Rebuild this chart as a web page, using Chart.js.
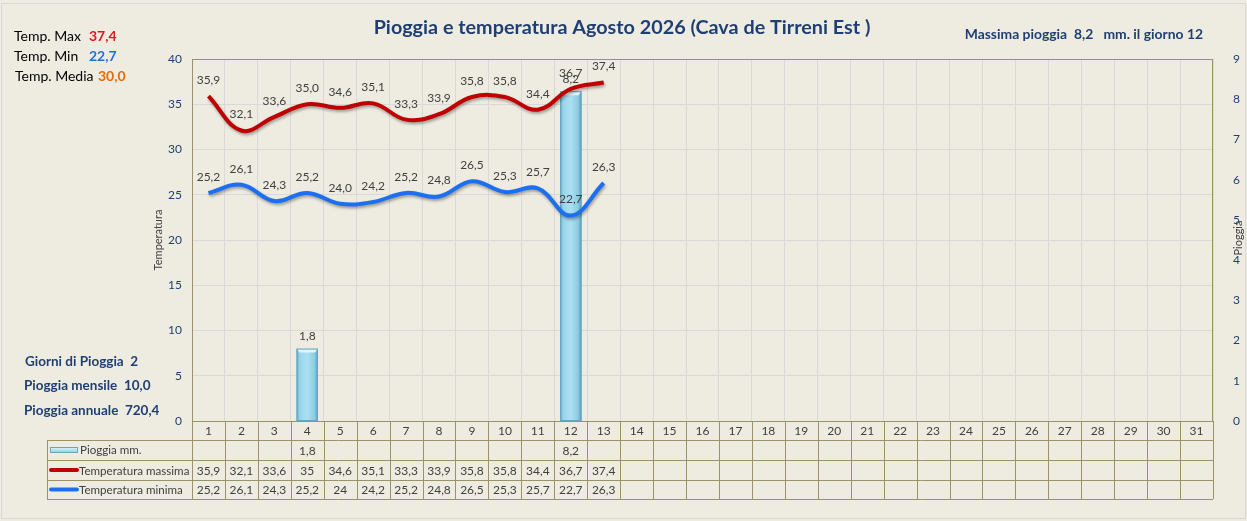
<!DOCTYPE html>
<html>
<head>
<meta charset="utf-8">
<script src="https://cdn.jsdelivr.net/npm/chart.js@4.4.1/dist/chart.umd.min.js"></script>
<style>
  html, body { margin: 0; padding: 0; background: #eeece1; }
  #wrap { width: 1247px; height: 521px; position: relative; }
</style>
</head>
<body>
<div id="wrap"><canvas id="chart"></canvas></div>
<script>
// dati del mese
const giorni = ['1','2','3','4','5','6','7','8','9','10','11','12','13','14','15','16',
  '17','18','19','20','21','22','23','24','25','26','27','28','29','30','31'];
const pioggia = [null, null, null, 1.8, null, null, null, null, null, null, null, 8.2, null,
  null, null, null, null, null, null, null, null, null, null, null, null, null, null, null, null, null, null];
const tempMax = [35.9, 32.1, 33.6, 35.0, 34.6, 35.1, 33.3, 33.9, 35.8, 35.8, 34.4, 36.7, 37.4,
  null, null, null, null, null, null, null, null, null, null, null, null, null, null, null, null, null, null];
const tempMin = [25.2, 26.1, 24.3, 25.2, 24.0, 24.2, 25.2, 24.8, 26.5, 25.3, 25.7, 22.7, 26.3,
  null, null, null, null, null, null, null, null, null, null, null, null, null, null, null, null, null, null];
const pioggiaAnnuale = 720.4;

const FONT = 'Lato, "Open Sans", sans-serif';
const OLIVE = '#9a9367';
const NAVY = '#1f3f73';
const GREY = '#404040';

const valid = a => a.filter(v => v !== null);
const fmt1 = v => v.toFixed(1).replace('.', ',');
const fmtGen = v => String(v).replace('.', ',');

const tMax = Math.max(...valid(tempMax));
const tMin = Math.min(...valid(tempMin));
const tMedia = (valid(tempMax).reduce((a, b) => a + b, 0) + valid(tempMin).reduce((a, b) => a + b, 0)) / (2 * valid(tempMax).length);
const pMax = Math.max(...valid(pioggia));
const pMaxGiorno = giorni[pioggia.indexOf(pMax)];
const pGiorni = valid(pioggia).length;
const pMese = valid(pioggia).reduce((a, b) => a + b, 0);

function txt(ctx, s, x, y, font, color, align) {
    ctx.font = font;
    ctx.fillStyle = color;
    ctx.textAlign = align || 'left';
    ctx.textBaseline = 'middle';
    ctx.fillText(s, x, y);
}

const decor = {
    id: 'decor',
    beforeDraw(chart) {
        const ctx = chart.ctx;
        ctx.save();
        ctx.fillStyle = '#eeece1';
        ctx.fillRect(0, 0, chart.width, chart.height);
        ctx.strokeStyle = '#d8d8d8';
        ctx.lineWidth = 1;
        ctx.strokeRect(1.5, 3.5, chart.width - 3, chart.height - 6);
        ctx.restore();
    },
    beforeDatasetDraw(chart, args) {
        const ctx = chart.ctx;
        ctx.save();
        if (args.meta.type === 'line') {
            ctx.shadowColor = 'rgba(0,0,0,0.35)';
            ctx.shadowBlur = 3;
            ctx.shadowOffsetX = 1;
            ctx.shadowOffsetY = 2;
        }
    },
    afterDatasetDraw(chart, args) {
        const ctx = chart.ctx;
        ctx.restore();
        if (args.meta.type !== 'bar') return;
        // effetto rilievo sulle barre
        args.meta.data.forEach((el, i) => {
            if (pioggia[i] === null) return;
            const { x, y, base, width } = el.getProps(['x', 'y', 'base', 'width'], true);
            const l = x - width / 2;
            const g = ctx.createLinearGradient(l, 0, l + width, 0);
            g.addColorStop(0, '#63aac6');
            g.addColorStop(0.15, '#9ad4ea');
            g.addColorStop(0.5, '#ace0f1');
            g.addColorStop(0.85, '#8ccae2');
            g.addColorStop(1, '#5597b2');
            ctx.save();
            ctx.fillStyle = g;
            ctx.fillRect(l, y, width, base - y);
            ctx.fillStyle = '#e4f5fb';
            ctx.beginPath();
            ctx.moveTo(l, y);
            ctx.lineTo(l + width, y);
            ctx.lineTo(l + width - 3, y + 4);
            ctx.lineTo(l + 3, y + 4);
            ctx.closePath();
            ctx.fill();
            ctx.strokeStyle = '#6aa6bd';
            ctx.lineWidth = 1;
            ctx.strokeRect(l + 0.5, y + 0.5, width - 1, base - y - 1);
            ctx.restore();
        });
    },
    afterDraw(chart) {
        const ctx = chart.ctx;
        const area = chart.chartArea;
        const xs = chart.scales.x;
        const cw = xs.width / giorni.length;
        ctx.save();

        // bordo area del grafico
        ctx.strokeStyle = OLIVE;
        ctx.lineWidth = 1;
        ctx.strokeRect(Math.round(area.left) + 0.5, Math.round(area.top) + 0.5,
            Math.round(area.width) - 1, Math.round(area.height));

        // etichette dei dati
        const lab = '12px ' + FONT;
        [1, 2].forEach(di => {
            const meta = chart.getDatasetMeta(di);
            const vals = chart.data.datasets[di].data;
            meta.data.forEach((el, i) => {
                if (vals[i] === null) return;
                txt(ctx, fmt1(vals[i]), el.x, el.y - 16, lab, GREY, 'center');
            });
        });
        chart.getDatasetMeta(0).data.forEach((el, i) => {
            if (pioggia[i] === null) return;
            txt(ctx, fmt1(pioggia[i]), el.x, el.y - 12, lab, GREY, 'center');
        });

        // titoli degli assi
        ctx.save();
        ctx.translate(158, area.top + area.height / 2);
        ctx.rotate(-Math.PI / 2);
        txt(ctx, 'Temperatura', 0, 0, '11px ' + FONT, GREY, 'center');
        ctx.restore();
        ctx.save();
        ctx.translate(1238, area.top + area.height / 2 - 2);
        ctx.rotate(-Math.PI / 2);
        txt(ctx, 'Pioggia', 0, 0, '11px ' + FONT, GREY, 'center');
        ctx.restore();

        // tabella dati
        const rows = [area.bottom, area.bottom + 19, area.bottom + 39, area.bottom + 59, area.bottom + 78];
        const tl = 47;
        ctx.strokeStyle = OLIVE;
        ctx.lineWidth = 1;
        ctx.beginPath();
        rows.forEach((ry, r) => {
            const x0 = r === 0 ? area.left : tl;
            ctx.moveTo(x0, Math.round(ry) + 0.5);
            ctx.lineTo(area.right, Math.round(ry) + 0.5);
        });
        for (let i = 0; i <= giorni.length; i++) {
            const vx = Math.round(area.left + i * cw) + 0.5;
            ctx.moveTo(vx, rows[0]);
            ctx.lineTo(vx, rows[4]);
        }
        ctx.moveTo(tl + 0.5, rows[1]);
        ctx.lineTo(tl + 0.5, rows[4]);
        ctx.stroke();

        const cell = '12px ' + FONT;
        giorni.forEach((g, i) => {
            const cx = xs.getPixelForValue(i);
            txt(ctx, g, cx, (rows[0] + rows[1]) / 2 + 1, cell, GREY, 'center');
            if (pioggia[i] !== null) txt(ctx, fmtGen(pioggia[i]), cx, (rows[1] + rows[2]) / 2 + 1, cell, GREY, 'center');
            if (tempMax[i] !== null) txt(ctx, fmtGen(tempMax[i]), cx, (rows[2] + rows[3]) / 2 + 1, cell, GREY, 'center');
            if (tempMin[i] !== null) txt(ctx, fmtGen(tempMin[i]), cx, (rows[3] + rows[4]) / 2 + 1, cell, GREY, 'center');
        });

        // legenda nella tabella
        const k1 = (rows[1] + rows[2]) / 2;
        const kg = ctx.createLinearGradient(0, k1 - 3, 0, k1 + 3);
        kg.addColorStop(0, '#e4f5fb');
        kg.addColorStop(1, '#8ccbe2');
        ctx.fillStyle = kg;
        ctx.fillRect(50, k1 - 3, 28, 6);
        ctx.strokeStyle = '#6aa6bd';
        ctx.strokeRect(50.5, k1 - 2.5, 27, 5);
        ctx.lineCap = 'round';
        ctx.lineWidth = 4;
        ctx.strokeStyle = '#c00000';
        ctx.beginPath(); ctx.moveTo(51, (rows[2] + rows[3]) / 2); ctx.lineTo(77, (rows[2] + rows[3]) / 2); ctx.stroke();
        ctx.strokeStyle = '#1c6ff0';
        ctx.beginPath(); ctx.moveTo(51, (rows[3] + rows[4]) / 2); ctx.lineTo(77, (rows[3] + rows[4]) / 2); ctx.stroke();
        const head = '11.6px ' + FONT;
        txt(ctx, 'Pioggia mm.', 80, k1, head, GREY);
        txt(ctx, 'Temperatura massima', 79, (rows[2] + rows[3]) / 2 + 1, head, GREY);
        txt(ctx, 'Temperatura minima', 79, (rows[3] + rows[4]) / 2 + 1, head, GREY);

        // titolo e riepiloghi
        txt(ctx, 'Pioggia e temperatura Agosto 2026 (Cava de Tirreni Est )', 622, 28, 'bold 19.8px ' + FONT, NAVY, 'center');
        txt(ctx, 'Massima pioggia  ' + fmt1(pMax) + '   mm. il giorno ' + pMaxGiorno, 1203, 35, 'bold 13.9px ' + FONT, NAVY, 'right');

        const big = '14px ' + FONT;
        const bigB = 'bold 14px ' + FONT;
        txt(ctx, 'Temp. Max', 14, 36, big, '#000');
        txt(ctx, fmt1(tMax), 89, 36, bigB, '#e8141c');
        txt(ctx, 'Temp. Min', 14, 56, big, '#000');
        txt(ctx, fmt1(tMin), 89, 56, bigB, '#1f6fd8');
        txt(ctx, 'Temp. Media', 15, 76, big, '#000');
        txt(ctx, fmt1(tMedia), 98, 76, bigB, '#e36c09');

        const sum = 'bold 13.5px ' + FONT;
        txt(ctx, 'Giorni di Pioggia  ' + pGiorni, 25, 362, sum, NAVY);
        txt(ctx, 'Pioggia mensile  ' + fmt1(pMese), 24, 386, sum, NAVY);
        txt(ctx, 'Pioggia annuale  ' + fmt1(pioggiaAnnuale), 24, 411, sum, NAVY);

        ctx.restore();
    }
};

const tickFont = { family: FONT, size: 12 };

new Chart(document.getElementById('chart').getContext('2d'), {
    data: {
        labels: giorni,
        datasets: [
            {
                type: 'bar',
                label: 'Pioggia mm.',
                data: pioggia,
                yAxisID: 'y1',
                backgroundColor: '#9fd5e8',
                categoryPercentage: 1,
                barPercentage: 0.65,
                order: 2
            },
            {
                type: 'line',
                label: 'Temperatura massima',
                data: tempMax,
                yAxisID: 'y',
                borderColor: '#c00000',
                borderWidth: 4,
                pointRadius: 0,
                tension: 0.4,
                order: 1
            },
            {
                type: 'line',
                label: 'Temperatura minima',
                data: tempMin,
                yAxisID: 'y',
                borderColor: '#1c6ff0',
                borderWidth: 4,
                pointRadius: 0,
                tension: 0.4,
                order: 1
            }
        ]
    },
    options: {
        responsive: true,
        maintainAspectRatio: false,
        animation: false,
        layout: { padding: { left: 140, right: 0, top: 59, bottom: 100 } },
        plugins: {
            legend: { display: false },
            tooltip: { enabled: false }
        },
        scales: {
            x: {
                ticks: { display: false },
                grid: { offset: true, color: '#d9d9d9', drawTicks: false },
                border: { display: false },
                afterFit: s => { s.height = 0; }
            },
            y: {
                position: 'left',
                min: 0,
                max: 40,
                ticks: { stepSize: 5, padding: 10, color: NAVY, font: tickFont },
                grid: { color: '#d9d9d9', drawTicks: false },
                border: { display: false },
                afterFit: s => { s.width = 52; }
            },
            y1: {
                position: 'right',
                min: 0,
                max: 9,
                ticks: { stepSize: 1, padding: 12, color: NAVY, font: tickFont },
                grid: { display: false },
                border: { display: false },
                afterFit: s => { s.width = 34; }
            }
        }
    },
    plugins: [decor]
});
</script>
</body>
</html>
